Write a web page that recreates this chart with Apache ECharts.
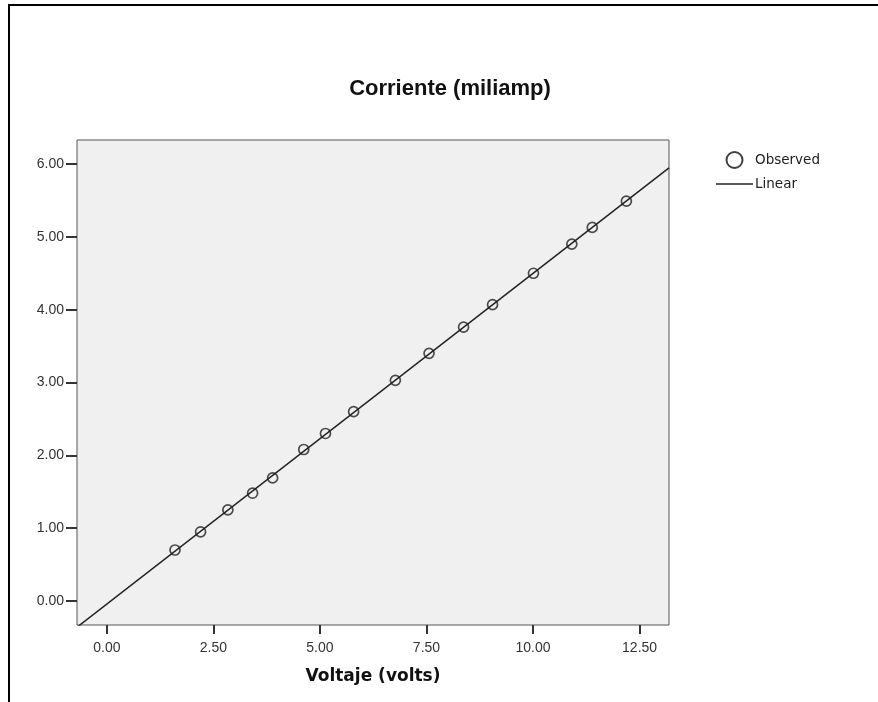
<!DOCTYPE html>
<html>
<head>
<meta charset="utf-8">
<script src="https://cdn.jsdelivr.net/npm/echarts@6/dist/echarts.min.js"></script>
<style>
  html, body { margin: 0; padding: 0; background: #fff; }
  #wrap { position: relative; width: 878px; height: 702px; }
  #chart { position: absolute; left: 0; top: 0; width: 878px; height: 702px; }
  #frame { position: absolute; left: 8px; top: 4px; width: 880px; height: 710px;
           border-top: 2px solid #000; border-left: 2px solid #000; pointer-events: none; }
</style>
</head>
<body>
<div id="wrap">
  <div id="chart"></div>
  <div id="frame"></div>
</div>
<script>
// ---- data ----
const voltage = [1.60, 2.20, 2.84, 3.42, 3.89, 4.62, 5.13, 5.79, 6.77, 7.56, 8.37, 9.05, 10.01, 10.91, 11.39, 12.19];
const current = [0.70, 0.95, 1.25, 1.48, 1.69, 2.08, 2.30, 2.60, 3.03, 3.40, 3.76, 4.07, 4.50, 4.90, 5.13, 5.49];
const xTicks = [0, 2.5, 5, 7.5, 10, 12.5];
const yTicks = [0, 1, 2, 3, 4, 5, 6];
const xRange = [-0.70, 13.19];
const yRange = [-0.33, 6.33];
const titleText = 'Corriente (miliamp)';
const xName = 'Voltaje (volts)';
const seriesNames = ['Observed', 'Linear'];

// ---- least squares fit for the "Linear" series ----
const n = voltage.length;
const mx = voltage.reduce((a, b) => a + b, 0) / n;
const my = current.reduce((a, b) => a + b, 0) / n;
let sxy = 0, sxx = 0;
for (let i = 0; i < n; i++) { sxy += (voltage[i] - mx) * (current[i] - my); sxx += (voltage[i] - mx) ** 2; }
const slope = sxy / sxx;
const intercept = my - slope * mx;
const fitLine = xRange.map(x => [x, intercept + slope * x]);

const chart = echarts.init(document.getElementById('chart'), null, { renderer: 'canvas' });
const tickFont = { fontFamily: 'Liberation Sans', fontSize: 14, color: '#333' };

chart.setOption({
  animation: false,
  backgroundColor: '#fff',
  title: {
    text: titleText,
    left: 445, top: 73, textAlign: 'center',
    textStyle: { fontFamily: 'Liberation Sans', fontWeight: 'bold', fontSize: 22, color: '#111' }
  },
  legend: {
    orient: 'vertical', left: 716, top: 151, padding: 0,
    itemWidth: 37, itemHeight: 16, itemGap: 8,
    textStyle: { fontFamily: 'DejaVu Sans', fontSize: 13.5, color: '#222', padding: [0, 0, 0, -3] },
    data: [
      { name: seriesNames[0], icon: 'circle', itemStyle: { color: 'rgba(0,0,0,0)', borderColor: '#111', borderWidth: 2 } },
      { name: seriesNames[1], icon: 'path://M0,0h37v1.6h-37z' }
    ]
  },
  grid: {
    left: 77, top: 140, width: 592, height: 485,
    show: true, backgroundColor: '#f0f0f0', borderColor: '#555', borderWidth: 1
  },
  xAxis: {
    type: 'value', min: xRange[0], max: xRange[1],
    name: xName, nameLocation: 'middle', nameGap: 43,
    nameTextStyle: { fontFamily: 'DejaVu Sans', fontWeight: 'bold', fontSize: 17, color: '#111' },
    axisLine: { show: false, onZero: false },
    splitLine: { show: false },
    axisTick: { show: true, length: 9, customValues: xTicks, lineStyle: { color: '#333', width: 2 } },
    axisLabel: { customValues: xTicks, margin: 16, formatter: v => v.toFixed(2), ...tickFont }
  },
  yAxis: {
    type: 'value', min: yRange[0], max: yRange[1],
    axisLine: { show: false, onZero: false },
    splitLine: { show: false },
    axisTick: { show: true, length: 11, customValues: yTicks, lineStyle: { color: '#333', width: 2 } },
    axisLabel: { customValues: yTicks, margin: 13, formatter: v => v.toFixed(2), ...tickFont }
  },
  series: [
    {
      name: seriesNames[1], type: 'line',
      data: fitLine, showSymbol: false, symbol: 'none', clip: true,
      lineStyle: { color: '#222', width: 1.5 },
      itemStyle: { color: '#222' }, z: 2
    },
    {
      name: seriesNames[0], type: 'scatter',
      data: voltage.map((v, i) => [v, current[i]]),
      symbol: 'circle', symbolSize: 10,
      itemStyle: { color: 'rgba(0,0,0,0)', borderColor: '#222', borderWidth: 1.7 }, z: 3
    }
  ]
});
</script>
</body>
</html>
